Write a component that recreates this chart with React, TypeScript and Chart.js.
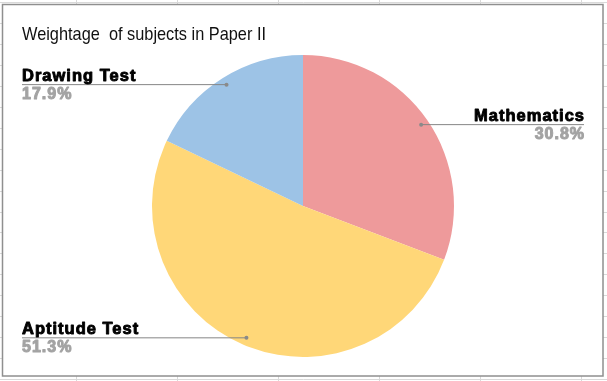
import { useEffect, useRef } from 'react';
import { Chart, registerables } from 'chart.js';

Chart.register(...registerables);

// ---- data ----
const chartTitle = 'Weightage  of subjects in Paper II';
const subjects = ['Mathematics', 'Aptitude Test', 'Drawing Test'];
const weightage = [30.8, 51.3, 17.9];
const sliceColors = ['#EE9A9B', '#FFD778', '#9DC3E6'];

const WIDTH = 607;
const HEIGHT = 381;

// spreadsheet-style backdrop with a framed white chart box
const sheetBackdrop = {
  id: 'sheetBackdrop',
  beforeDraw(chart: any) {
    const ctx = chart.ctx as CanvasRenderingContext2D;
    ctx.save();
    ctx.fillStyle = '#ffffff';
    ctx.fillRect(0, 0, WIDTH, HEIGHT);

    ctx.strokeStyle = '#d9d9d9';
    ctx.lineWidth = 1;
    ctx.beginPath();
    for (let k = 0; k <= 19; k++) {
      const y = Math.round(2 + 20.95 * k) + 0.5;
      ctx.moveTo(0, y);
      ctx.lineTo(WIDTH, y);
    }
    for (let k = 0; k <= 5; k++) {
      const x = Math.round(76 + 100.9 * k) + 0.5;
      ctx.moveTo(x, 0);
      ctx.lineTo(x, HEIGHT);
    }
    ctx.stroke();

    // chart box
    const bx = 2.5, by = 4.5, bw = 600.5, bh = 371.5;
    ctx.fillStyle = '#ffffff';
    ctx.fillRect(bx, by, bw, bh);
    ctx.strokeStyle = '#8f8f8f';
    ctx.lineWidth = 1.5;
    ctx.strokeRect(bx, by, bw, bh);
    ctx.restore();
  },
};

// leader lines, category names and percentages
const sliceLabels = {
  id: 'sliceLabels',
  afterDatasetsDraw(chart: any) {
    const ctx = chart.ctx as CanvasRenderingContext2D;
    const meta = chart.getDatasetMeta(0);
    const leftX = 22;
    const rightX = 584;
    ctx.save();
    meta.data.forEach((arc: any, i: number) => {
      const { x, y, startAngle, endAngle, outerRadius } = arc.getProps(
        ['x', 'y', 'startAngle', 'endAngle', 'outerRadius'],
        true
      );
      const mid = (startAngle + endAngle) / 2;
      const r = outerRadius * 0.95;
      const px = x + Math.cos(mid) * r;
      const py = y + Math.sin(mid) * r;
      const onLeft = px < x;
      const endX = onLeft ? leftX : rightX;

      ctx.strokeStyle = '#858585';
      ctx.lineWidth = 1;
      ctx.beginPath();
      ctx.moveTo(endX, py);
      ctx.lineTo(px, py);
      ctx.stroke();

      ctx.fillStyle = '#8a8a8a';
      ctx.beginPath();
      ctx.arc(px, py, 2, 0, Math.PI * 2);
      ctx.fill();

      (ctx as any).letterSpacing = '1px';
      ctx.textBaseline = 'alphabetic';
      ctx.textAlign = onLeft ? 'left' : 'right';
      ctx.lineJoin = 'round';
      const tx = onLeft ? leftX : rightX + 1;

      ctx.font = 'bold 16.5px "Liberation Sans", Arial, sans-serif';
      ctx.fillStyle = '#000000';
      ctx.strokeStyle = '#000000';
      ctx.lineWidth = 0.9;
      ctx.fillText(subjects[i], tx, py - 4);
      ctx.strokeText(subjects[i], tx, py - 4);

      const pct = `${weightage[i].toFixed(1)}%`;
      ctx.font = 'bold 16px "Liberation Sans", Arial, sans-serif';
      ctx.fillStyle = '#a3a3a3';
      ctx.strokeStyle = '#a3a3a3';
      ctx.lineWidth = 1;
      ctx.fillText(pct, tx, py + 14.5);
      ctx.strokeText(pct, tx, py + 14.5);
    });
    ctx.restore();
  },
  afterDraw(chart: any) {
    const ctx = chart.ctx as CanvasRenderingContext2D;
    ctx.save();
    ctx.font = '18.5px "Liberation Sans", Arial, sans-serif';
    ctx.fillStyle = '#111111';
    ctx.textAlign = 'left';
    ctx.textBaseline = 'alphabetic';
    const natural = ctx.measureText(chartTitle).width;
    const target = 244;
    ctx.translate(22, 39.5);
    ctx.scale(target / natural, 1);
    ctx.fillText(chartTitle, 0, 0);
    ctx.restore();
  },
};

export default function App() {
  const canvasRef = useRef<HTMLCanvasElement | null>(null);

  useEffect(() => {
    document.body.style.margin = '0';
    const canvas = canvasRef.current;
    if (!canvas) return;
    const chart = new Chart(canvas, {
      type: 'pie',
      data: {
        labels: subjects,
        datasets: [
          {
            data: weightage,
            backgroundColor: sliceColors,
            borderWidth: 0,
          },
        ],
      },
      options: {
        responsive: false,
        animation: false,
        devicePixelRatio: 1,
        events: [],
        layout: {
          padding: { top: 55, bottom: 24, left: 152, right: 153 },
        },
        plugins: {
          legend: { display: false },
          tooltip: { enabled: false },
          title: { display: false },
        },
      },
      plugins: [sheetBackdrop, sliceLabels],
    });
    return () => chart.destroy();
  }, []);

  return (
    <div style={{ width: WIDTH, height: HEIGHT, position: 'relative' }}>
      <canvas ref={canvasRef} width={WIDTH} height={HEIGHT} style={{ display: 'block' }} />
    </div>
  );
}
